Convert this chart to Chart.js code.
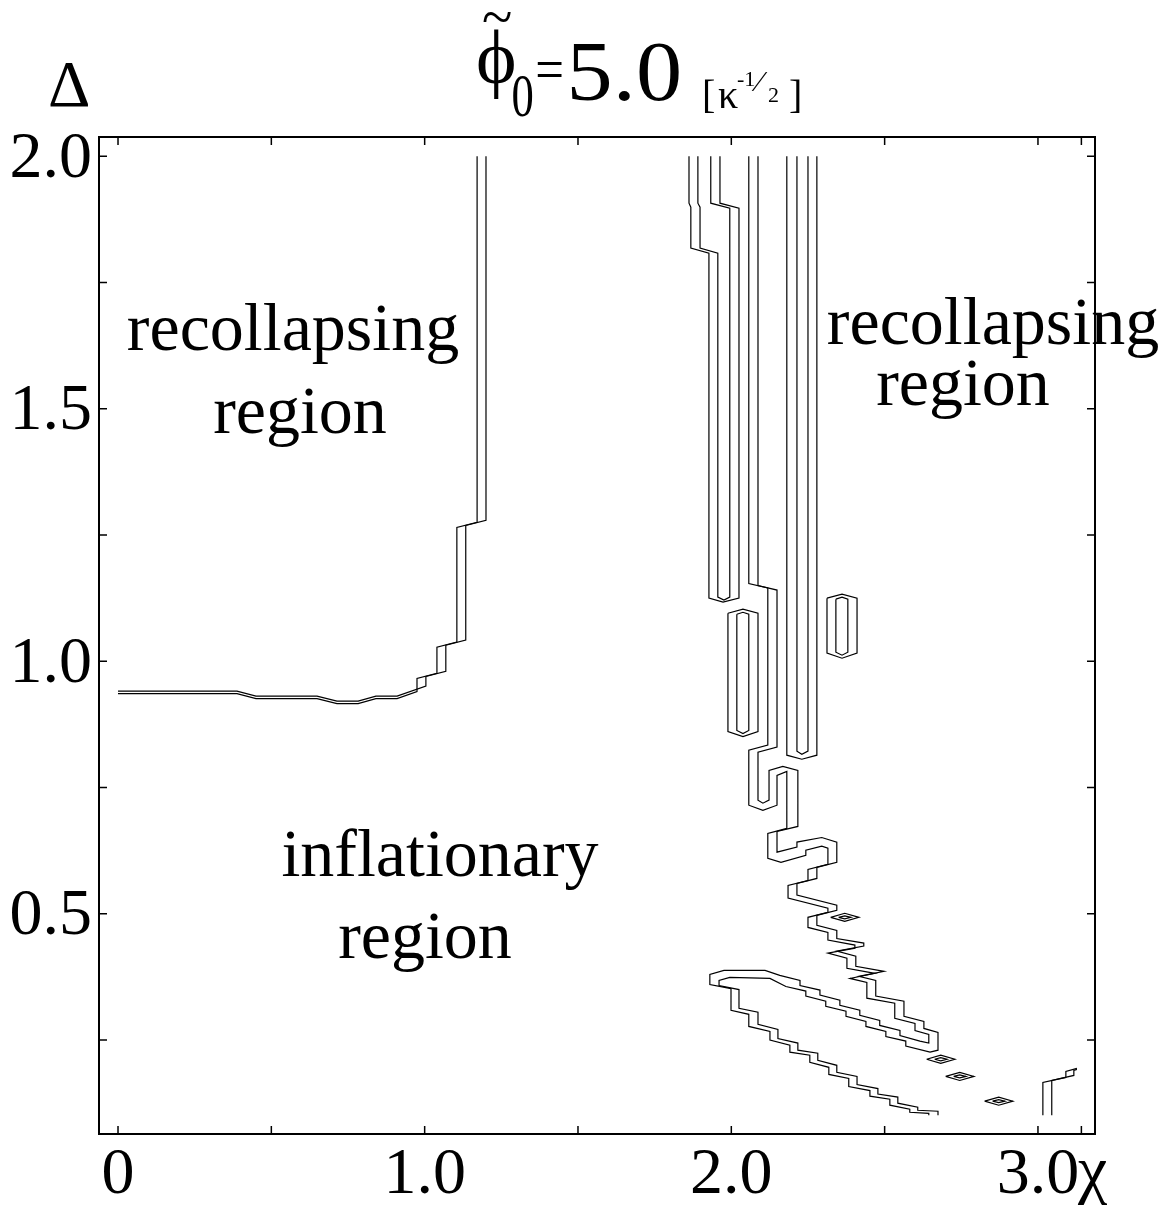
<!DOCTYPE html>
<html>
<head>
<meta charset="utf-8">
<script src="https://cdn.jsdelivr.net/npm/chart.js@4.4.0/dist/chart.umd.min.js"></script>
<style>
  body { margin: 0; background: #fff; }
  canvas { display: block; }
</style>
</head>
<body>
<canvas id="chart" width="1175" height="1206"></canvas>
<script>
// axis ticks (chi along x, Delta along y)
const xTicks = [0, 0.5, 1.0, 1.5, 2.0, 2.5, 3.0, 3.1416];
const xTickLabels = ["0", "", "1.0", "", "2.0", "", "3.0", ""];
const yTicks = [0.25, 0.5, 0.75, 1.0, 1.25, 1.5, 1.75, 2.0];
const yTickLabels = ["", "0.5", "", "1.0", "", "1.5", "", "2.0"];

// contour lines, each point is [chi, Delta]
const leftContourA = [[0,0.936],[0.388,0.936],[0.450,0.926],[0.649,0.926],[0.714,0.916],[0.783,0.916],[0.841,0.926],[0.910,0.926],[0.975,0.940],[0.975,0.966],[1.040,0.976],[1.040,1.028],[1.105,1.038],[1.105,1.265],[1.171,1.275],[1.171,2.0]];
const leftContourB = [[0,0.941],[0.388,0.941],[0.450,0.931],[0.649,0.931],[0.714,0.921],[0.783,0.921],[0.841,0.931],[0.910,0.931],[1.004,0.951],[1.004,0.970],[1.069,0.980],[1.069,1.032],[1.134,1.042],[1.134,1.269],[1.200,1.279],[1.200,2.0]];

const fingerOuter = [[1.862,2.0],[1.862,1.907],[1.868,1.899],[1.868,1.818],[1.927,1.808],[1.927,1.125],[1.973,1.117],[2.025,1.125],[2.025,1.897],[1.963,1.907],[1.963,2.0]];
const fingerInner = [[1.891,2.0],[1.891,1.907],[1.898,1.899],[1.898,1.818],[1.956,1.808],[1.956,1.127],[1.976,1.121],[1.995,1.127],[1.995,1.897],[1.933,1.907],[1.933,2.0]];

const rightFingerOuter = [[2.181,2.0],[2.181,0.814],[2.230,0.806],[2.279,0.814],[2.279,2.0]];
const rightFingerInner = [[2.214,2.0],[2.214,0.822],[2.230,0.816],[2.250,0.822],[2.250,2.0]];

const stripX = [[2.057,2.0],[2.057,1.154],[2.119,1.145],[2.119,0.834],[2.057,0.824],[2.057,0.715],[2.103,0.705],[2.149,0.715],[2.149,0.774],[2.181,0.782],[2.181,0.669],[2.119,0.659],[2.119,0.610],[2.162,0.602],[2.243,0.616],[2.243,0.626],[2.295,0.634],[2.315,0.630],[2.315,0.598],[2.250,0.588],[2.250,0.566],[2.185,0.556],[2.185,0.531],[2.315,0.511],[2.315,0.503],[2.250,0.493],[2.250,0.473],[2.315,0.463],[2.315,0.448],[2.403,0.438],[2.403,0.432],[2.315,0.422],[2.377,0.412],[2.377,0.392],[2.468,0.382],[2.387,0.372],[2.442,0.364],[2.442,0.333],[2.533,0.323],[2.533,0.293],[2.599,0.283],[2.599,0.269],[2.644,0.261],[2.644,0.244],[2.615,0.248],[2.550,0.259],[2.550,0.269],[2.484,0.279],[2.484,0.289],[2.419,0.299],[2.419,0.309],[2.354,0.319],[2.354,0.329],[2.289,0.339],[2.289,0.349],[2.224,0.358],[2.224,0.368],[2.158,0.378],[2.110,0.388],[1.976,0.388],[1.930,0.380],[1.930,0.360],[1.999,0.352],[1.999,0.309],[2.057,0.301],[2.057,0.277],[2.126,0.267],[2.126,0.250],[2.191,0.240],[2.191,0.226],[2.256,0.220],[2.256,0.206],[2.318,0.196],[2.318,0.182],[2.383,0.174],[2.383,0.158],[2.452,0.150],[2.452,0.139],[2.517,0.133],[2.517,0.121],[2.582,0.113],[2.582,0.107],[2.644,0.105],[2.644,0.101]];
const stripY = [[2.087,2.0],[2.087,1.150],[2.149,1.141],[2.149,0.830],[2.087,0.820],[2.087,0.725],[2.103,0.719],[2.123,0.725],[2.123,0.784],[2.168,0.792],[2.217,0.784],[2.217,0.673],[2.149,0.663],[2.149,0.622],[2.214,0.632],[2.214,0.642],[2.295,0.651],[2.344,0.642],[2.344,0.602],[2.279,0.592],[2.279,0.570],[2.214,0.560],[2.214,0.537],[2.344,0.517],[2.344,0.507],[2.279,0.497],[2.279,0.477],[2.344,0.467],[2.344,0.451],[2.432,0.442],[2.432,0.436],[2.344,0.426],[2.406,0.416],[2.406,0.396],[2.498,0.386],[2.416,0.376],[2.471,0.368],[2.471,0.337],[2.563,0.327],[2.563,0.297],[2.628,0.287],[2.628,0.273],[2.674,0.265],[2.674,0.230],[2.648,0.226],[2.569,0.238],[2.569,0.248],[2.504,0.257],[2.504,0.267],[2.439,0.277],[2.439,0.287],[2.374,0.297],[2.374,0.307],[2.308,0.317],[2.308,0.327],[2.243,0.337],[2.243,0.347],[2.178,0.356],[2.126,0.372],[1.995,0.374],[1.960,0.368],[1.960,0.358],[2.025,0.350],[2.025,0.313],[2.087,0.305],[2.087,0.281],[2.152,0.271],[2.152,0.253],[2.217,0.244],[2.217,0.230],[2.282,0.224],[2.282,0.210],[2.344,0.200],[2.344,0.186],[2.410,0.178],[2.410,0.162],[2.478,0.154],[2.478,0.143],[2.543,0.137],[2.543,0.125],[2.608,0.117],[2.608,0.111],[2.674,0.109],[2.674,0.101]];

const loopLeftOuter = [[1.989,1.095],[2.038,1.103],[2.087,1.095],[2.087,0.861],[2.038,0.851],[1.989,0.861],[1.989,1.095]];
const loopLeftInner = [[2.018,1.093],[2.038,1.097],[2.057,1.093],[2.057,0.863],[2.038,0.857],[2.018,0.863],[2.018,1.093]];
const loopRightOuter = [[2.312,1.125],[2.361,1.133],[2.410,1.125],[2.410,1.016],[2.361,1.006],[2.312,1.016],[2.312,1.125]];
const loopRightInner = [[2.341,1.123],[2.361,1.127],[2.380,1.123],[2.380,1.018],[2.361,1.012],[2.341,1.018],[2.341,1.123]];

const diamond1Outer = [[2.324,0.493],[2.370,0.501],[2.416,0.493],[2.370,0.485],[2.324,0.493]];
const diamond1Inner = [[2.350,0.493],[2.370,0.496],[2.390,0.493],[2.370,0.490],[2.350,0.493]];
const diamond2Outer = [[2.637,0.212],[2.683,0.220],[2.729,0.212],[2.683,0.204],[2.637,0.212]];
const diamond2Inner = [[2.663,0.212],[2.683,0.215],[2.703,0.212],[2.683,0.209],[2.663,0.212]];
const diamond3Outer = [[2.699,0.178],[2.745,0.186],[2.791,0.178],[2.745,0.170],[2.699,0.178]];
const diamond3Inner = [[2.725,0.178],[2.745,0.181],[2.765,0.178],[2.745,0.175],[2.725,0.178]];
const diamond4Outer = [[2.826,0.129],[2.872,0.137],[2.918,0.129],[2.872,0.121],[2.826,0.129]];
const diamond4Inner = [[2.852,0.129],[2.872,0.132],[2.892,0.129],[2.872,0.126],[2.852,0.129]];

const cornerA = [[3.016,0.101],[3.016,0.166],[3.091,0.176],[3.091,0.188],[3.127,0.194]];
const cornerB = [[3.045,0.101],[3.045,0.170],[3.117,0.180],[3.117,0.190],[3.127,0.192]];

const contourLines = [
  leftContourA, leftContourB, fingerOuter, fingerInner, rightFingerOuter, rightFingerInner,
  stripX, stripY, loopLeftOuter, loopLeftInner, loopRightOuter, loopRightInner,
  diamond1Outer, diamond1Inner, diamond2Outer, diamond2Inner, diamond3Outer, diamond3Inner,
  diamond4Outer, diamond4Inner, cornerA, cornerB
];

const serif = "'Liberation Serif', 'Times New Roman', serif";

// put a string so that its ink box starts at (left, top); sx squeezes it sideways
function putText(ctx, str, size, left, top, sx = 1) {
  ctx.save();
  ctx.font = size + "px " + serif;
  ctx.textAlign = "left";
  ctx.textBaseline = "alphabetic";
  const m = ctx.measureText(str);
  ctx.translate(left, top);
  ctx.scale(sx, 1);
  ctx.fillText(str, m.actualBoundingBoxLeft, m.actualBoundingBoxAscent);
  ctx.restore();
}

const framePlugin = {
  id: "frame",
  afterDraw(chart) {
    const { ctx, chartArea: a, scales } = chart;
    ctx.save();
    ctx.strokeStyle = "#000";
    ctx.lineWidth = 2;
    ctx.strokeRect(a.left, a.top, a.right - a.left, a.bottom - a.top);

    // inward ticks on all four sides
    ctx.lineWidth = 1.5;
    ctx.beginPath();
    xTicks.forEach(v => {
      const x = scales.x.getPixelForValue(v);
      ctx.moveTo(x, a.bottom); ctx.lineTo(x, a.bottom - 8);
      ctx.moveTo(x, a.top); ctx.lineTo(x, a.top + 8);
    });
    yTicks.forEach(v => {
      const y = scales.y.getPixelForValue(v);
      ctx.moveTo(a.left, y); ctx.lineTo(a.left + 8, y);
      ctx.moveTo(a.right, y); ctx.lineTo(a.right - 8, y);
    });
    ctx.stroke();

    ctx.fillStyle = "#000";
    ctx.textBaseline = "alphabetic";

    // region labels
    ctx.textAlign = "center";
    ctx.font = "68px " + serif;
    ctx.fillText("recollapsing", 293, 350);
    ctx.fillText("region", 300, 433);
    ctx.fillText("recollapsing", 993, 344);
    ctx.fillText("region", 963, 405);
    ctx.fillText("inflationary", 440, 876);
    ctx.fillText("region", 425, 958);

    // axis names
    putText(ctx, "\u0394", 66, 50, 63);
    putText(ctx, "\u03C7", 66, 1077, 1161);

    // title
    putText(ctx, "~", 56, 483, 12);
    putText(ctx, "\u03D5", 77, 478, 29);
    putText(ctx, "0", 62, 513, 76, 0.72);
    putText(ctx, "=", 60, 537, 62, 0.85);
    putText(ctx, "5.0", 84, 571, 43, 1.1);
    putText(ctx, "[", 40, 704, 79);
    putText(ctx, "\u03BA", 40, 718, 89);
    putText(ctx, "-1", 22, 737, 72);
    putText(ctx, "\u2044", 30, 751, 72);
    putText(ctx, "2", 22, 768, 88);
    putText(ctx, "]", 40, 790, 79);
    ctx.restore();
  }
};

new Chart(document.getElementById("chart"), {
  type: "scatter",
  data: {
    datasets: contourLines.map(pts => ({
      data: pts.map(([x, y]) => ({ x, y })),
      showLine: true,
      borderColor: "#000",
      borderWidth: 1.2,
      pointRadius: 0,
      fill: false,
      tension: 0
    }))
  },
  options: {
    responsive: false,
    animation: false,
    devicePixelRatio: 1,
    layout: { padding: { top: 137, right: 80, left: 0, bottom: 0 } },
    plugins: { legend: { display: false }, tooltip: { enabled: false } },
    scales: {
      x: {
        type: "linear",
        min: -0.062,
        max: 3.186,
        grid: { display: false, drawTicks: false },
        border: { display: false },
        afterBuildTicks: s => { s.ticks = xTicks.map(v => ({ value: v })); },
        afterFit: s => { s.height = 72; },
        ticks: {
          autoSkip: false,
          maxRotation: 0,
          padding: 2,
          color: "#000",
          font: { family: serif, size: 66 },
          callback: (v, i) => xTickLabels[i]
        }
      },
      y: {
        type: "linear",
        min: 0.064,
        max: 2.038,
        grid: { display: false, drawTicks: false },
        border: { display: false },
        afterBuildTicks: s => { s.ticks = yTicks.map(v => ({ value: v })); },
        afterFit: s => { s.width = 99; },
        ticks: {
          autoSkip: false,
          padding: 7,
          labelOffset: 3,
          color: "#000",
          font: { family: serif, size: 66 },
          callback: (v, i) => yTickLabels[i]
        }
      }
    }
  },
  plugins: [framePlugin]
});
</script>
</body>
</html>
